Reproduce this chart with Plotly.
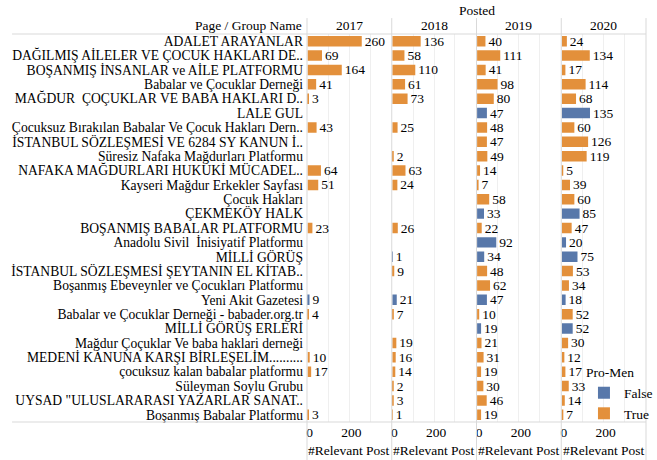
import plotly.graph_objects as go
from plotly.subplots import make_subplots

pages = [
    "ADALET ARAYANLAR",
    "DAĞILMIŞ AİLELER VE ÇOCUK HAKLARI DE..",
    "BOŞANMIŞ İNSANLAR ve AİLE PLATFORMU",
    "Babalar ve Çocuklar Derneği",
    "MAĞDUR  ÇOÇUKLAR VE BABA HAKLARI D..",
    "LALE GUL",
    "Çocuksuz Bırakılan Babalar Ve Çocuk Hakları Dern..",
    "İSTANBUL SÖZLEŞMESİ VE 6284 SY KANUN İ..",
    "Süresiz Nafaka Mağdurları Platformu",
    "NAFAKA MAĞDURLARI HUKUKİ MÜCADEL..",
    "Kayseri Mağdur Erkekler Sayfası",
    "Çocuk Hakları",
    "ÇEKMEKÖY HALK",
    "BOŞANMIŞ BABALAR PLATFORMU",
    "Anadolu Sivil  İnisiyatif Platformu",
    "MİLLİ GÖRÜŞ",
    "İSTANBUL SÖZLEŞMESİ ŞEYTANIN EL KİTAB..",
    "Boşanmış Ebeveynler ve Çocukları Platformu",
    "Yeni Akit Gazetesi",
    "Babalar ve Çocuklar Derneği - babader.org.tr",
    "MİLLİ GÖRÜŞ ERLERİ",
    "Mağdur Çoçuklar Ve baba haklari derneği",
    "MEDENİ KANUNA KARŞI BİRLEŞELİM..........",
    "çocuksuz kalan babalar platformu",
    "Süleyman Soylu Grubu",
    "UYSAD \"ULUSLARARASI YAZARLAR SANAT..",
    "Boşanmış Babalar Platformu",
]

pro_men = [
    True, True, True, True, True, False, True, True, True, True,
    True, True, False, True, False, False, True, True, False, True,
    False, True, True, True, True, True, True,
]

years = ["2017", "2018", "2019", "2020"]

posts_2017 = [260, 69, 164, 41, 3, None, 43, None, None, 64,
              51, None, None, 23, None, None, None, None, 9, 4,
              None, None, 10, 17, None, None, 3]
posts_2018 = [136, 58, 110, 61, 73, None, 25, None, 2, 63,
              24, None, None, 26, None, 1, 9, None, 21, 7,
              None, 19, 16, 14, 2, 3, 1]
posts_2019 = [40, 111, 41, 98, 80, 47, 48, 47, 49, 14,
              7, 58, 33, 22, 92, 34, 48, 62, 47, 10,
              19, 21, 31, 19, 30, 46, 19]
posts_2020 = [24, 134, 17, 114, 68, 135, 60, 126, 119, 5,
              39, 60, 85, 47, 20, 75, 53, 34, 18, 52,
              52, 30, 12, 17, 33, 14, 7]

series = [posts_2017, posts_2018, posts_2019, posts_2020]

x_ticks = [0, 100, 200, 300]
x_tick_labels = ["0", "", "200", ""]
x_title = "#Relevant Post"

BLUE = "#5878AA"
ORANGE = "#E3903B"
FONT = "Liberation Serif"
GRID = "#EFEFEF"
SEP = "#D9D9D9"

fig = make_subplots(rows=1, cols=4, shared_yaxes=True, horizontal_spacing=0)

for i, vals in enumerate(series):
    for flag, name, color in [(False, "False", BLUE), (True, "True", ORANGE)]:
        xs = [v if (v is not None and pm == flag) else None for v, pm in zip(vals, pro_men)]
        fig.add_trace(
            go.Bar(
                y=pages, x=xs, orientation="h", name=name,
                marker=dict(color=color, line=dict(width=0)),
                legendgroup=name, showlegend=(i == 0),
                texttemplate="%{x}", textposition="outside",
                textfont=dict(family=FONT, size=13.5, color="black"),
                cliponaxis=False, constraintext="none",
            ),
            row=1, col=i + 1,
        )

fig.update_layout(
    width=657, height=460,
    margin=dict(l=307, r=11, t=34, b=38, autoexpand=False),
    paper_bgcolor="white", plot_bgcolor="white",
    barmode="overlay", bargap=0.27,
    font=dict(family=FONT, size=13, color="black"),
    legend=dict(
        title=dict(text="Pro-Men", font=dict(family=FONT, size=13.5)),
        font=dict(family=FONT, size=13.5),
        x=0.817, y=0.16, xanchor="left", yanchor="top",
        bgcolor="rgba(255,255,255,0)", borderwidth=0,
        itemwidth=30, tracegroupgap=0,
    ),
)

axis_names = ["x", "x2", "x3", "x4"]
for i in range(4):
    fig.update_xaxes(
        range=[-3, 404], tickvals=x_ticks, ticktext=x_tick_labels,
        showgrid=True, gridcolor=GRID, gridwidth=1, zeroline=False,
        showline=False, ticks="", tickfont=dict(family=FONT, size=13.5),
        ticklabelshift=2, automargin=False,
        row=1, col=i + 1,
    )
    fig.add_annotation(text=x_title, xref=f"{axis_names[i]} domain", yref="paper",
                       x=0.5, y=0, yanchor="middle", yshift=-28.5, showarrow=False,
                       font=dict(family=FONT, size=13.5))

fig.update_yaxes(
    type="category", categoryorder="array", categoryarray=pages,
    tickmode="array", tickvals=pages, ticktext=pages,
    autorange="reversed", showgrid=False, zeroline=False, showline=False,
    ticks="", tickfont=dict(family=FONT, size=13.6), ticklabelstandoff=3,
    automargin=False,
)

# panel separators and header/axis lines
for k in range(5):
    fig.add_shape(type="line", xref="paper", yref="paper",
                  x0=k / 4, x1=k / 4, y0=-0.1, y1=1.041,
                  line=dict(color=SEP, width=1))
for yy in [1.0, 0.0]:
    fig.add_shape(type="line", xref="paper", yref="paper",
                  x0=-0.87, x1=1.0, y0=yy, y1=yy,
                  line=dict(color=SEP, width=1))

for i, yr in enumerate(years):
    fig.add_annotation(text=yr, xref=f"{axis_names[i]} domain", yref="paper",
                       x=0.5, y=1, yanchor="middle", yshift=9, showarrow=False,
                       font=dict(family=FONT, size=13.5))
fig.add_annotation(text="Posted", xref="paper", yref="paper", x=0.5, y=1,
                   yanchor="middle", yshift=24, showarrow=False,
                   font=dict(family=FONT, size=13.5))
fig.add_annotation(text="Page / Group Name", xref="paper", yref="paper", x=0, y=1,
                   xanchor="right", yanchor="middle", xshift=-3, yshift=9,
                   showarrow=False, font=dict(family=FONT, size=13.5))

fig.write_html("out.html", config={"displayModeBar": False},
               post_script="document.body.style.margin='0';")
